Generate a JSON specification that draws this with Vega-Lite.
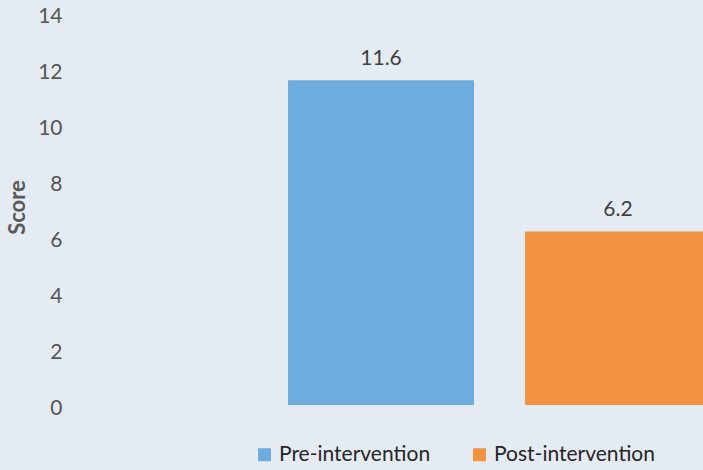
{
  "$schema": "https://vega.github.io/schema/vega-lite/v6.json",
  "width": 628,
  "height": 392,
  "autosize": {"type": "none"},
  "padding": {"left": 75, "top": 13, "right": 0, "bottom": 65},
  "background": "#e5ebf2",
  "config": {"view": {"stroke": null, "fill": "#e5ebf2"}, "font": "Lato"},
  "data": {
    "values": [
      {"phase": "Pre-intervention", "score": 11.6},
      {"phase": "Post-intervention", "score": 6.2}
    ]
  },
  "encoding": {
    "x": {
      "field": "phase",
      "type": "nominal",
      "sort": ["Pre-intervention", "Post-intervention"],
      "scale": {"range": [0, 849], "paddingInner": 0.215, "paddingOuter": 0.899},
      "axis": null
    },
    "y": {
      "field": "score",
      "type": "quantitative",
      "scale": {"domain": [0, 14]},
      "axis": {
        "title": "Score",
        "values": [0, 2, 4, 6, 8, 10, 12, 14],
        "grid": false,
        "domain": false,
        "ticks": false,
        "tickSize": 0,
        "labelPadding": 13,
        "labelFontSize": 21,
        "labelColor": "#555555",
        "labelOffset": 3,
        "labelFlush": false,
        "titleFontSize": 22,
        "titleFontWeight": "bold",
        "titleColor": "#595959",
        "titleAngle": -90,
        "titleX": -58,
        "titleY": 194,
        "titleBaseline": "middle",
        "titleAlign": "center"
      }
    }
  },
  "layer": [
    {
      "mark": {"type": "bar", "clip": true},
      "encoding": {
        "color": {
          "field": "phase",
          "type": "nominal",
          "scale": {
            "domain": ["Pre-intervention", "Post-intervention"],
            "range": ["#6cacdf", "#f29342"]
          },
          "legend": {
            "orient": "none",
            "legendX": 179,
            "legendY": 431,
            "direction": "horizontal",
            "title": null,
            "symbolType": "square",
            "symbolSize": 169,
            "symbolStrokeWidth": 0,
            "symbolOpacity": 1,
            "labelFontSize": 21,
            "labelLimit": 400,
            "labelColor": "#262626",
            "labelOffset": 4,
            "columnPadding": 38
          }
        }
      }
    },
    {
      "mark": {"type": "text", "baseline": "alphabetic", "dy": -15, "fontSize": 21, "color": "#404040"},
      "encoding": {
        "text": {"field": "score", "type": "quantitative", "format": ".1f"}
      }
    }
  ]
}
